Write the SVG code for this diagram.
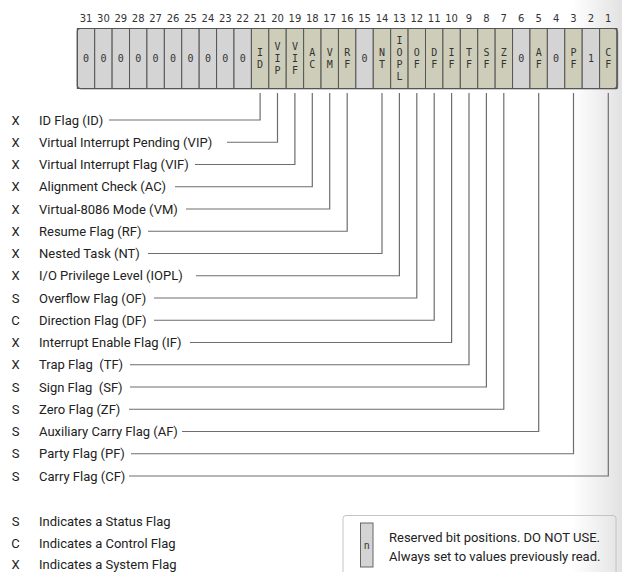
<svg xmlns="http://www.w3.org/2000/svg" width="622" height="572" viewBox="0 0 622 572">
<defs>
<linearGradient id="edge" x1="0" y1="0" x2="1" y2="0">
<stop offset="0" stop-color="#ffffff"/>
<stop offset="1" stop-color="#e2e2e2"/>
</linearGradient>
</defs>
<style>
.num{font-family:"DejaVu Sans",sans-serif;font-size:10px;fill:#333;text-anchor:middle}
.cell{font-family:"DejaVu Sans Mono",monospace;font-size:10px;fill:#333;text-anchor:middle}
.res{fill:#d4d4d4;stroke:#555;stroke-width:1}
.flg{fill:#cdcdb9;stroke:#555;stroke-width:1}
.lbl{font-family:Roboto,"Noto Sans",sans-serif;font-size:13px;fill:#222;white-space:pre}
.typ{font-family:Roboto,"Noto Sans",sans-serif;font-size:13px;fill:#222;text-anchor:middle}
.con{fill:none;stroke:#6e6e6e;stroke-width:1.2}
</style>
<rect x="572" y="0" width="50" height="572" fill="url(#edge)"/>

<g id="bitnumbers">
<text class="num" x="86.0" y="22">31</text><text class="num" x="103.4" y="22">30</text><text class="num" x="120.8" y="22">29</text><text class="num" x="138.2" y="22">28</text><text class="num" x="155.6" y="22">27</text><text class="num" x="173.1" y="22">26</text><text class="num" x="190.5" y="22">25</text><text class="num" x="207.9" y="22">24</text><text class="num" x="225.3" y="22">23</text><text class="num" x="242.7" y="22">22</text><text class="num" x="260.1" y="22">21</text><text class="num" x="277.5" y="22">20</text><text class="num" x="294.9" y="22">19</text><text class="num" x="312.3" y="22">18</text><text class="num" x="329.7" y="22">17</text><text class="num" x="347.2" y="22">16</text><text class="num" x="364.6" y="22">15</text><text class="num" x="382.0" y="22">14</text><text class="num" x="399.4" y="22">13</text><text class="num" x="416.8" y="22">12</text><text class="num" x="434.2" y="22">11</text><text class="num" x="451.6" y="22">10</text><text class="num" x="469.0" y="22">9</text><text class="num" x="486.4" y="22">8</text><text class="num" x="503.8" y="22">7</text><text class="num" x="521.3" y="22">6</text><text class="num" x="538.7" y="22">5</text><text class="num" x="556.1" y="22">4</text><text class="num" x="573.5" y="22">3</text><text class="num" x="590.9" y="22">2</text><text class="num" x="608.3" y="22">1</text>
</g>

<g id="register">
<rect x="78.3" y="29.5" width="540" height="60" rx="3" fill="#999"/>
<g id="bit31"><rect class="res" x="77.3" y="28.5" width="17.41" height="60"/><text class="cell" x="86.0" y="62">0</text></g>
<g id="bit30"><rect class="res" x="94.71" y="28.5" width="17.41" height="60"/><text class="cell" x="103.4" y="62">0</text></g>
<g id="bit29"><rect class="res" x="112.12" y="28.5" width="17.41" height="60"/><text class="cell" x="120.8" y="62">0</text></g>
<g id="bit28"><rect class="res" x="129.53" y="28.5" width="17.41" height="60"/><text class="cell" x="138.2" y="62">0</text></g>
<g id="bit27"><rect class="res" x="146.94" y="28.5" width="17.41" height="60"/><text class="cell" x="155.6" y="62">0</text></g>
<g id="bit26"><rect class="res" x="164.35" y="28.5" width="17.41" height="60"/><text class="cell" x="173.1" y="62">0</text></g>
<g id="bit25"><rect class="res" x="181.76" y="28.5" width="17.41" height="60"/><text class="cell" x="190.5" y="62">0</text></g>
<g id="bit24"><rect class="res" x="199.17" y="28.5" width="17.41" height="60"/><text class="cell" x="207.9" y="62">0</text></g>
<g id="bit23"><rect class="res" x="216.58" y="28.5" width="17.41" height="60"/><text class="cell" x="225.3" y="62">0</text></g>
<g id="bit22"><rect class="res" x="233.99" y="28.5" width="17.41" height="60"/><text class="cell" x="242.7" y="62">0</text></g>
<g id="bitID"><rect class="flg" x="251.4" y="28.5" width="17.41" height="60"/><text class="cell" x="260.1" y="55.5">I</text><text class="cell" x="260.1" y="67.5">D</text></g>
<g id="bitVIP"><rect class="flg" x="268.81" y="28.5" width="17.41" height="60"/><text class="cell" x="277.5" y="49.5">V</text><text class="cell" x="277.5" y="61.5">I</text><text class="cell" x="277.5" y="73.5">P</text></g>
<g id="bitVIF"><rect class="flg" x="286.22" y="28.5" width="17.41" height="60"/><text class="cell" x="294.9" y="49.5">V</text><text class="cell" x="294.9" y="61.5">I</text><text class="cell" x="294.9" y="73.5">F</text></g>
<g id="bitAC"><rect class="flg" x="303.63" y="28.5" width="17.41" height="60"/><text class="cell" x="312.3" y="55.5">A</text><text class="cell" x="312.3" y="67.5">C</text></g>
<g id="bitVM"><rect class="flg" x="321.04" y="28.5" width="17.41" height="60"/><text class="cell" x="329.7" y="55.5">V</text><text class="cell" x="329.7" y="67.5">M</text></g>
<g id="bitRF"><rect class="flg" x="338.45" y="28.5" width="17.41" height="60"/><text class="cell" x="347.2" y="55.5">R</text><text class="cell" x="347.2" y="67.5">F</text></g>
<g id="bit15"><rect class="res" x="355.86" y="28.5" width="17.41" height="60"/><text class="cell" x="364.6" y="62">0</text></g>
<g id="bitNT"><rect class="flg" x="373.27" y="28.5" width="17.41" height="60"/><text class="cell" x="382.0" y="55.5">N</text><text class="cell" x="382.0" y="67.5">T</text></g>
<g id="bitIOPL"><rect class="flg" x="390.68" y="28.5" width="17.41" height="60"/><text class="cell" x="399.4" y="43.5">I</text><text class="cell" x="399.4" y="55.5">O</text><text class="cell" x="399.4" y="67.5">P</text><text class="cell" x="399.4" y="79.5">L</text></g>
<g id="bitOF"><rect class="flg" x="408.09" y="28.5" width="17.41" height="60"/><text class="cell" x="416.8" y="55.5">O</text><text class="cell" x="416.8" y="67.5">F</text></g>
<g id="bitDF"><rect class="flg" x="425.5" y="28.5" width="17.41" height="60"/><text class="cell" x="434.2" y="55.5">D</text><text class="cell" x="434.2" y="67.5">F</text></g>
<g id="bitIF"><rect class="flg" x="442.91" y="28.5" width="17.41" height="60"/><text class="cell" x="451.6" y="55.5">I</text><text class="cell" x="451.6" y="67.5">F</text></g>
<g id="bitTF"><rect class="flg" x="460.32" y="28.5" width="17.41" height="60"/><text class="cell" x="469.0" y="55.5">T</text><text class="cell" x="469.0" y="67.5">F</text></g>
<g id="bitSF"><rect class="flg" x="477.73" y="28.5" width="17.41" height="60"/><text class="cell" x="486.4" y="55.5">S</text><text class="cell" x="486.4" y="67.5">F</text></g>
<g id="bitZF"><rect class="flg" x="495.14" y="28.5" width="17.41" height="60"/><text class="cell" x="503.8" y="55.5">Z</text><text class="cell" x="503.8" y="67.5">F</text></g>
<g id="bit6"><rect class="res" x="512.55" y="28.5" width="17.41" height="60"/><text class="cell" x="521.3" y="62">0</text></g>
<g id="bitAF"><rect class="flg" x="529.96" y="28.5" width="17.41" height="60"/><text class="cell" x="538.7" y="55.5">A</text><text class="cell" x="538.7" y="67.5">F</text></g>
<g id="bit4"><rect class="res" x="547.37" y="28.5" width="17.41" height="60"/><text class="cell" x="556.1" y="62">0</text></g>
<g id="bitPF"><rect class="flg" x="564.78" y="28.5" width="17.41" height="60"/><text class="cell" x="573.5" y="55.5">P</text><text class="cell" x="573.5" y="67.5">F</text></g>
<g id="bit2"><rect class="res" x="582.19" y="28.5" width="17.41" height="60"/><text class="cell" x="590.9" y="62">1</text></g>
<g id="bitCF"><rect class="flg" x="599.6" y="28.5" width="17.41" height="60"/><text class="cell" x="608.3" y="55.5">C</text><text class="cell" x="608.3" y="67.5">F</text></g>
<rect x="77.3" y="28.5" width="539.7" height="60" rx="3" fill="none" stroke="#555" stroke-width="1.2"/>
</g>

<g id="connectors">
<polyline class="con" points="260.1,93 260.1,120 109,120"/>
<polyline class="con" points="277.5,93 277.5,142.25 227,142.25"/>
<polyline class="con" points="294.9,93 294.9,164.5 195,164.5"/>
<polyline class="con" points="312.3,93 312.3,186.75 175,186.75"/>
<polyline class="con" points="329.7,93 329.7,209 186,209"/>
<polyline class="con" points="347.2,93 347.2,231.25 148,231.25"/>
<polyline class="con" points="382,93 382,253.5 148,253.5"/>
<polyline class="con" points="399.4,93 399.4,275.75 196,275.75"/>
<polyline class="con" points="416.8,93 416.8,298 154,298"/>
<polyline class="con" points="434.2,93 434.2,320.25 154,320.25"/>
<polyline class="con" points="451.6,93 451.6,342.5 190,342.5"/>
<polyline class="con" points="469,93 469,364.75 130,364.75"/>
<polyline class="con" points="486.4,93 486.4,387 130,387"/>
<polyline class="con" points="503.8,93 503.8,409.25 129,409.25"/>
<polyline class="con" points="538.7,93 538.7,431.5 182,431.5"/>
<polyline class="con" points="573.5,93 573.5,453.75 131,453.75"/>
<polyline class="con" points="608.3,93 608.3,476 129,476"/>
</g>

<g id="labels">
<g id="lblID"><text class="typ" x="15.5" y="124.5">X</text><text class="lbl" x="39" y="124.5">ID Flag (ID)</text></g>
<g id="lblVIP"><text class="typ" x="15.5" y="146.75">X</text><text class="lbl" x="39" y="146.75">Virtual Interrupt Pending (VIP)</text></g>
<g id="lblVIF"><text class="typ" x="15.5" y="169">X</text><text class="lbl" x="39" y="169">Virtual Interrupt Flag (VIF)</text></g>
<g id="lblAC"><text class="typ" x="15.5" y="191.25">X</text><text class="lbl" x="39" y="191.25">Alignment Check (AC)</text></g>
<g id="lblVM"><text class="typ" x="15.5" y="213.5">X</text><text class="lbl" x="39" y="213.5">Virtual-8086 Mode (VM)</text></g>
<g id="lblRF"><text class="typ" x="15.5" y="235.75">X</text><text class="lbl" x="39" y="235.75">Resume Flag (RF)</text></g>
<g id="lblNT"><text class="typ" x="15.5" y="258">X</text><text class="lbl" x="39" y="258">Nested Task (NT)</text></g>
<g id="lblIOPL"><text class="typ" x="15.5" y="280.25">X</text><text class="lbl" x="39" y="280.25">I/O Privilege Level (IOPL)</text></g>
<g id="lblOF"><text class="typ" x="15.5" y="302.5">S</text><text class="lbl" x="39" y="302.5">Overflow Flag (OF)</text></g>
<g id="lblDF"><text class="typ" x="15.5" y="324.75">C</text><text class="lbl" x="39" y="324.75">Direction Flag (DF)</text></g>
<g id="lblIF"><text class="typ" x="15.5" y="347">X</text><text class="lbl" x="39" y="347">Interrupt Enable Flag (IF)</text></g>
<g id="lblTF"><text class="typ" x="15.5" y="369.25">X</text><text class="lbl" x="39" y="369.25">Trap Flag  (TF)</text></g>
<g id="lblSF"><text class="typ" x="15.5" y="391.5">S</text><text class="lbl" x="39" y="391.5">Sign Flag  (SF)</text></g>
<g id="lblZF"><text class="typ" x="15.5" y="413.75">S</text><text class="lbl" x="39" y="413.75">Zero Flag (ZF)</text></g>
<g id="lblAF"><text class="typ" x="15.5" y="436">S</text><text class="lbl" x="39" y="436">Auxiliary Carry Flag (AF)</text></g>
<g id="lblPF"><text class="typ" x="15.5" y="458.25">S</text><text class="lbl" x="39" y="458.25">Party Flag (PF)</text></g>
<g id="lblCF"><text class="typ" x="15.5" y="480.5">S</text><text class="lbl" x="39" y="480.5">Carry Flag (CF)</text></g>
</g>

<g id="legend">
<text class="typ" x="15.5" y="526">S</text><text class="lbl" x="39" y="526">Indicates a Status Flag</text>
<text class="typ" x="15.5" y="547.5">C</text><text class="lbl" x="39" y="547.5">Indicates a Control Flag</text>
<text class="typ" x="15.5" y="568.5">X</text><text class="lbl" x="39" y="568.5">Indicates a System Flag</text>
</g>

<g id="reservedKey">
<rect x="343" y="515.5" width="273" height="70" rx="3" fill="none" stroke="#c4c4c4" stroke-width="1"/>
<rect x="360.5" y="523" width="12.5" height="44" fill="#d4d4d4" stroke="#666" stroke-width="1"/>
<text x="366.7" y="548.5" style="font-family:Roboto,sans-serif;font-size:10px;fill:#333;text-anchor:middle">n</text>
<text class="lbl" x="389" y="541.5">Reserved bit positions. DO NOT USE.</text>
<text class="lbl" x="389" y="560.5">Always set to values previously read.</text>
</g>
</svg>
